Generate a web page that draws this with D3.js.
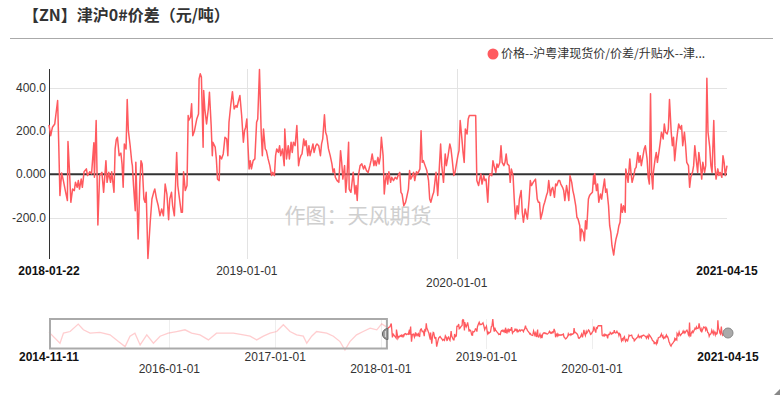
<!DOCTYPE html>
<html>
<head>
<meta charset="utf-8">
<script src="https://cdn.jsdelivr.net/npm/d3@7/dist/d3.min.js"></script>
<style>
    body {
        margin: 0;
        background: #fff;
        font-family: "Liberation Sans", Arial, "Noto Sans CJK SC", sans-serif;
    }
    svg text {
        fill: #333;
    }
</style>
</head>
<body>
<div id="chart"></div>
<script>
    var title = "【ZN】津沪0#价差（元/吨）";
    var legendLabel = "价格--沪粤津现货价/价差/升贴水--津...";
    var watermark = "作图：天风期货";

    var startDate = "2018-01-22",
        endDate = "2021-04-15",
        historyStart = "2014-11-11";

    // [days since 2018-01-22, spread]
    var spread = [
        [0,228],[3,178],[6,217],[10,232],[15,340],[17,132],[19,-98],[22,6],[25,-29],[29,-83],[32,-121],[33,151],
        [36,-6],[38,-129],[41,-68],[44,-75],[46,-37],[49,-60],[51,-29],[53,-68],[56,-22],[58,-60],[61,12],[65,25],
        [67,-6],[71,12],[74,2],[78,145],[79,-14],[82,248],[85,-234],[88,-6],[92,9],[95,-83],[99,63],[101,-37],
        [104,9],[107,-37],[109,12],[113,-83],[115,117],[117,160],[119,171],[122,86],[125,98],[127,48],[129,-60],
        [131,140],[134,117],[136,345],[138,201],[141,135],[144,55],[145,40],[147,-52],[150,-168],[151,55],[155,-298],
        [158,-37],[160,63],[162,48],[165,-114],[167,-129],[169,-83],[172,-388],[176,-221],[179,-114],[182,-83],
        [184,-68],[187,-114],[190,-145],[193,-191],[196,-160],[199,-191],[202,-45],[205,-91],[208,-209],[210,-114],
        [213,-83],[215,-145],[218,-191],[220,-52],[222,101],[224,-52],[227,-114],[230,-175],[232,-175],[234,12],
        [237,-75],[240,-52],[242,271],[243,248],[246,263],[248,325],[250,178],[253,201],[257,255],[260,278],
        [261,440],[263,463],[265,448],[268,125],[269,386],[271,301],[274,232],[277,301],[279,378],[282,225],
        [284,86],[285,148],[289,125],[291,71],[293,-22],
        [296,-29],[297,86],[300,71],[303,94],[306,171],[309,163],[311,86],[313,240],[316,317],[319,381],[322,301],
        [325,317],[327,309],[329,332],[332,363],[335,271],[338,148],[340,201],[342,217],[344,255],[346,132],[348,25],
        [350,63],[352,25],[355,63],[358,71],[361,240],[363,255],[366,483],[369,194],[371,86],[373,209],[376,117],
        [378,109],[381,71],[384,40],[387,-6],[389,9],[392,-6],[394,86],[396,117],[399,101],[401,132],[403,86],
        [406,117],[409,40],[410,209],[413,71],[416,132],[418,71],[421,148],[423,101],[425,148],[428,132],[431,225],
        [434,40],[436,71],[438,86],[440,94],[443,163],[445,132],[447,155],[450,86],[452,132],[454,86],[457,117],
        [459,140],[461,101],[464,132],[466,140],[469,132],[472,86],[474,140],[476,163],[479,274],[481,194],[483,178],
        [486,117],[489,86],[492,48],[494,9],[496,25],[498,-14],[501,-29],[504,-37],[507,109],[509,55],[511,-22],
        [514,40],[516,-83],[518,-22],[521,148],[522,-68],[525,-83],[527,-37],[529,9],[532,-91],[534,-52],[536,-121],
        [538,-6],[541,40],[544,48],[547,25],[549,40],[552,17],[555,9],[558,40],[560,63],[562,94],[565,40],[567,63],
        [569,40],[572,78],[574,48],[576,78],[578,171],[581,86],[583,-91],[585,-29],[587,2],[589,-45],[591,12],
        [594,-37],[596,-14],[599,-29],[602,-14],[605,-22],[607,-6],[610,9],[612,-83],[614,-91],[617,-145],[620,-129],
        [622,-106],[625,-68],[627,17],[629,-22],[632,-6],[634,9],[636,-29],[639,12],[641,2],[645,25],[647,201],
        [649,55],[651,63],[654,40],[657,17],[660,-29],[662,-114],[664,-129],[667,-98],[669,-83],[671,-37],[673,9],
        [676,-98],[678,-6],[681,140],[683,40],[686,-37],[689,94],[691,40],[694,86],[697,140],[699,117],[701,71],
        [704,-6],[706,9],[708,40],[711,86],[713,109],[715,248],[718,163],[720,101],[722,55],[724,209],[727,186],
        [729,255],[731,271],[742,271],[744,-29],[747,-52],[749,-22],[751,2],[753,-45],[756,-6],[758,-29],[760,-22],
        [763,-129],[765,-14],[767,2],[770,-6],[772,63],[774,40],[777,9],[779,48],[781,32],[784,55],[786,132],
        [788,55],[791,40],[793,55],[795,94],[797,48],[800,40],[802,-37],[804,25],[807,-6],[809,-114],[811,-206],
        [814,-145],[816,-183],[818,-114],[821,-75],[823,-175],[825,-221],[828,-160],[830,-183],[832,-206],[835,-114],
        [837,-29],[839,-52],[842,-37],[844,-29],[846,-22],[849,-114],[851,-129],[853,-129],[855,-206],[858,-175],
        [860,-145],[862,-129],[865,-98],[867,-83],[869,-29],[872,-98],[874,-68],[876,-60],[879,-106],[881,-45],
        [883,-52],[886,-29],
        [888,-29],[890,-45],[893,-60],[895,-75],[897,-121],[900,-52],[902,-83],[904,-121],[906,-6],[909,-37],
        [911,-75],[913,-98],[916,-145],[918,-198],[920,-206],[923,-237],[924,-306],[926,-252],[929,-268],[931,-306],
        [933,-214],[935,-252],[938,-114],[940,-98],[942,-91],[945,-83],[947,-6],[948,-45],[949,2],[952,-75],
        [954,-45],[956,-129],[959,-91],[961,-114],[963,-75],[966,-22],[968,-83],[970,-68],[973,-145],[975,-237],
        [977,-268],[979,-329],[982,-372],[984,-329],[986,-298],[989,-268],[991,-237],[993,-221],[995,-137],
        [997,-175],[999,-145],[1002,-175],[1003,25],[1005,-6],[1007,-37],[1010,71],[1012,9],[1014,-37],[1017,-6],
        [1019,25],[1021,32],[1024,101],[1026,55],[1028,86],[1030,40],[1033,86],[1035,117],[1037,132],[1040,71],
        [1042,-14],[1044,-45],[1046,371],[1048,-6],[1050,-68],[1051,9],[1054,71],[1056,101],[1058,55],[1061,109],
        [1063,148],[1065,194],[1068,163],[1070,232],[1072,194],[1075,186],[1077,209],[1079,345],[1082,194],
        [1084,132],[1086,171],[1088,63],[1091,148],[1093,194],[1095,232],[1098,209],[1100,225],[1102,132],
        [1105,194],[1107,132],[1109,55],[1112,40],[1114,-60],[1116,-14],[1119,9],[1121,40],[1123,132],[1126,55],
        [1128,9],[1130,101],[1133,40],[1135,-22],[1137,55],[1140,9],[1142,40],[1144,443],[1146,194],[1149,125],
        [1151,40],[1153,9],[1156,248],[1158,40],[1160,-22],[1163,25],[1165,-6],[1167,9],[1170,-14],[1172,86],
        [1174,55],[1176,-6],[1179,40]
    ];

    // older part only shown in the overview strip (days relative to 2018-01-22)
    var pastSpread = [
        [-1168,70],[-1130,-280],[-1118,38],[-1095,89],[-1067,324],[-1049,143],[-1026,38],[-992,59],[-957,-16],
        [-928,-228],[-905,-387],[-888,-58],[-871,38],[-853,-334],[-830,-16],[-807,-280],[-784,-58],[-756,38],
        [-727,89],[-698,143],[-675,38],[-646,-16],[-617,-175],[-589,38],[-554,38],[-531,38],[-496,-16],[-473,-58],
        [-450,-175],[-427,-58],[-404,38],[-381,89],[-358,302],[-335,89],[-312,-16],[-289,-58],[-277,-280],
        [-260,-58],[-243,89],[-208,38],[-185,-58],[-162,-228],[-145,-493],[-128,-228],[-105,-16],[-82,89],
        [-58,196],[-35,143],[-18,330],[0,228]
    ];

    var yTicks = [-200, 0, 200, 400],
        yTickLabels = ["-200.0", "0.000", "200.0", "400.0"];

    var xTicks = ["2018-01-22", "2019-01-01", "2020-01-01", "2021-04-15"];
    var overviewTicks = ["2014-11-11", "2016-01-01", "2017-01-01", "2018-01-01", "2019-01-01", "2020-01-01", "2021-04-15"];

    var red = "#ff5a5f";

    var parse = d3.utcParse("%Y-%m-%d");
    var t0 = parse(startDate);
    function toDate(d) { return d3.utcDay.offset(t0, d[0]); }

    var width = 783, height = 398;
    var svg = d3.select("#chart").append("svg")
        .attr("width", width)
        .attr("height", height);

    // header
    svg.append("text")
        .attr("x", 23).attr("y", 21)
        .style("font-family", "'Noto Sans CJK SC', sans-serif")
        .style("font-size", "16px")
        .style("font-weight", "bold")
        .text(title);

    svg.append("line")
        .attr("x1", 10).attr("x2", 773)
        .attr("y1", 38.5).attr("y2", 38.5)
        .style("stroke", "#aaa");

    svg.append("circle")
        .attr("cx", 493).attr("cy", 54).attr("r", 5.5)
        .style("fill", red);
    svg.append("text")
        .attr("x", 501).attr("y", 58)
        .style("font-family", "'Noto Sans CJK SC', sans-serif")
        .style("font-size", "12px")
        .text(legendLabel);

    // main chart
    var x = d3.scaleUtc()
        .domain([parse(startDate), parse(endDate)])
        .range([49, 727]);

    var y = d3.scaleLinear()
        .domain(d3.extent(spread, function (d) { return d[1]; }))
        .range([258.5, 69.5]);

    var grid = svg.append("g");
    grid.selectAll(".hgrid")
        .data(yTicks.filter(function (v) { return v !== 0; }))
        .enter().append("line")
        .attr("x1", 49).attr("x2", 727)
        .attr("y1", function (v) { return Math.round(y(v)) + 0.5; })
        .attr("y2", function (v) { return Math.round(y(v)) + 0.5; })
        .style("stroke", "#e3e3e3");

    grid.selectAll(".vgrid")
        .data(xTicks.slice(1, 3))
        .enter().append("line")
        .attr("x1", function (s) { return Math.round(x(parse(s))) + 0.5; })
        .attr("x2", function (s) { return Math.round(x(parse(s))) + 0.5; })
        .attr("y1", 69).attr("y2", 259)
        .style("stroke", "#e3e3e3");

    svg.append("text")
        .attr("x", 358).attr("y", 223)
        .attr("text-anchor", "middle")
        .style("font-family", "'Noto Sans CJK SC', sans-serif")
        .style("font-size", "21px")
        .style("fill", "#cfcfcf")
        .text(watermark);

    svg.append("line")
        .attr("x1", 49).attr("x2", 727)
        .attr("y1", y(0)).attr("y2", y(0))
        .style("stroke", "#333")
        .style("stroke-width", 2);

    svg.append("line")
        .attr("x1", 49.5).attr("x2", 49.5)
        .attr("y1", 69).attr("y2", 259)
        .style("stroke", "#333");

    svg.selectAll(".ylab")
        .data(yTicks)
        .enter().append("text")
        .attr("x", 46)
        .attr("y", function (v) { return y(v) + 4; })
        .attr("text-anchor", "end")
        .style("font-size", "12px")
        .text(function (v, i) { return yTickLabels[i]; });

    var line = d3.line()
        .x(function (d) { return x(toDate(d)); })
        .y(function (d) { return y(d[1]); });

    svg.append("path")
        .datum(spread)
        .attr("d", line)
        .style("fill", "none")
        .style("stroke", red)
        .style("stroke-width", 1.5)
        .style("stroke-linejoin", "round");

    svg.selectAll(".xlab")
        .data(xTicks)
        .enter().append("text")
        .attr("x", function (s) { return x(parse(s)); })
        .attr("y", function (s, i) { return i === 2 ? 287 : 275; })
        .attr("text-anchor", "middle")
        .style("font-size", "12px")
        .style("font-weight", function (s, i) { return i === 0 || i === xTicks.length - 1 ? "bold" : "normal"; })
        .style("fill", function (s, i) { return i === 0 || i === xTicks.length - 1 ? "#111" : "#333"; })
        .text(function (s) { return s; });

    // overview strip
    var ox = d3.scaleUtc()
        .domain([parse(historyStart), parse(endDate)])
        .range([49, 728]);

    var all = pastSpread.concat(spread);
    var oy = d3.scaleLinear()
        .domain(d3.extent(all, function (d) { return d[1]; }))
        .range([350, 319]);

    svg.selectAll(".ogrid")
        .data(overviewTicks.slice(1, 6))
        .enter().append("line")
        .attr("x1", function (s) { return Math.round(ox(parse(s))) + 0.5; })
        .attr("x2", function (s) { return Math.round(ox(parse(s))) + 0.5; })
        .attr("y1", 319).attr("y2", 349)
        .style("stroke", "#eee");

    var oline = d3.line()
        .x(function (d) { return ox(toDate(d)); })
        .y(function (d) { return oy(d[1]); });

    svg.append("path")
        .datum(pastSpread)
        .attr("d", oline)
        .style("fill", "none")
        .style("stroke", red)
        .style("stroke-opacity", 0.3)
        .style("stroke-width", 1.3);

    svg.append("path")
        .datum(spread)
        .attr("d", oline)
        .style("fill", "none")
        .style("stroke", red)
        .style("stroke-width", 1.3);

    var boxRight = ox(parse(startDate));
    svg.append("rect")
        .attr("x", 50).attr("y", 319)
        .attr("width", boxRight - 50).attr("height", 29.5)
        .style("fill", "none")
        .style("stroke", "#aaa")
        .style("stroke-width", 2);

    // handles
    svg.append("path")
        .attr("d", d3.arc()({ innerRadius: 0, outerRadius: 5.5, startAngle: Math.PI, endAngle: 2 * Math.PI }))
        .attr("transform", "translate(" + (boxRight + 1) + ",334)")
        .style("fill", "#999")
        .style("stroke", "#666");
    svg.append("line")
        .attr("x1", boxRight - 1.5).attr("x2", boxRight - 1.5)
        .attr("y1", 331).attr("y2", 337)
        .style("stroke", "#ddd");
    svg.append("circle")
        .attr("cx", ox(parse(endDate))).attr("cy", 333).attr("r", 5)
        .style("fill", "#aaa")
        .style("stroke", "#888");

    svg.selectAll(".olab")
        .data(overviewTicks)
        .enter().append("text")
        .attr("x", function (s) { return ox(parse(s)); })
        .attr("y", function (s, i) { return i % 2 === 1 ? 373 : 361; })
        .attr("text-anchor", "middle")
        .style("font-size", "12px")
        .style("font-weight", function (s, i) { return i === 0 || i === overviewTicks.length - 1 ? "bold" : "normal"; })
        .style("fill", function (s, i) { return i === 0 || i === overviewTicks.length - 1 ? "#111" : "#333"; })
        .text(function (s) { return s; });

    // resize corner
    svg.append("path")
        .attr("d", "M780,389L780,395L774,395Z")
        .style("fill", "#888");
</script>
</body>
</html>
